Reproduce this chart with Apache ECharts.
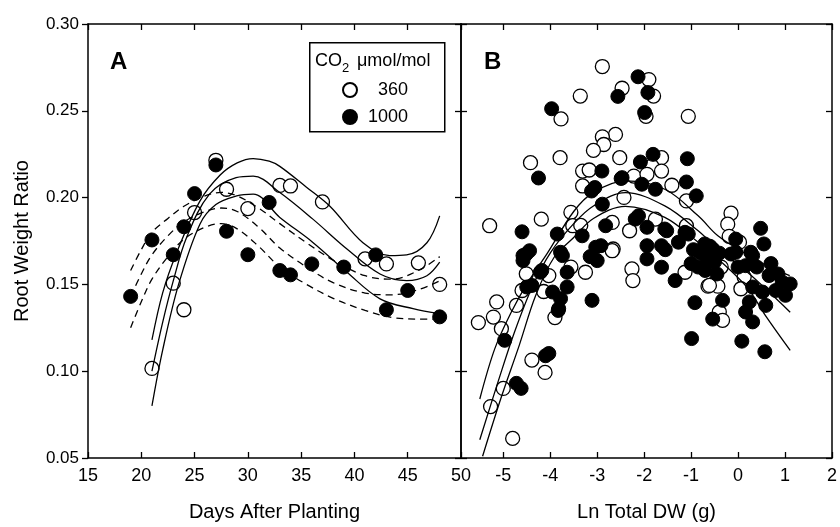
<!DOCTYPE html>
<html>
<head>
<meta charset="utf-8">
<script src="https://cdn.jsdelivr.net/npm/echarts@6/dist/echarts.min.js"></script>
<style>html,body{margin:0;padding:0;background:#fff}#c{width:840px;height:527px}</style>
</head>
<body>
<div id="c"></div>
<script>
// ---- tick labels ----
const xTicksA = [15, 20, 25, 30, 35, 40, 45, 50];
const xTicksB = [-5, -4, -3, -2, -1, 0, 1, 2];
const yTicks = [0.05, 0.10, 0.15, 0.20, 0.25, 0.30];

// ---- Panel A: Days After Planting vs Root Weight Ratio ----
const a360 = [[21,0.1016],[23,0.1507],[24,0.1354],[25,0.1914],[27,0.2215],[28,0.2048],[30,0.1937],
  [33,0.207],[34,0.2067],[37,0.1975],[41,0.1647],[43,0.1618],[46,0.1624],[48,0.150]];
const a1000 = [[19,0.1431],[21,0.1756],[23,0.1671],[24,0.1832],[25,0.2023],[27,0.2188],[28,0.1806],
  [30,0.1671],[32,0.1972],[33,0.158],[34,0.1555],[36,0.1618],[39,0.160],[42,0.167],[43,0.1354],
  [45,0.1465],[48,0.1313]];
// fitted curves (360: solid, 1000: dashed)
const a360Upper = [[21,0.118],[22,0.145],[23.3,0.168],[25.5,0.198],[27.4,0.213],[29,0.220],[30.5,0.2225],
  [32,0.221],[33,0.218],[35.5,0.206],[37.7,0.195],[40.8,0.174],[43.3,0.1666],[44.9,0.167],[46.8,0.174],[48,0.1895]];
const a360Fit = [[21,0.100],[22,0.128],[23,0.152],[24.25,0.177],[26.4,0.202],[28.9,0.2115],[30.5,0.2124],
  [33,0.2029],[36.1,0.1876],[39.3,0.1704],[42.4,0.156],[44.9,0.1522],[46.8,0.155],[48,0.1628]];
const a360Lower = [[21,0.080],[22,0.112],[23.5,0.150],[25.5,0.1847],[27,0.196],[28.95,0.201],[30.5,0.202],
  [33,0.1886],[36.1,0.1742],[39.3,0.157],[42.4,0.1417],[45.5,0.136],[48,0.1331]];
const a1000Upper = [[19,0.158],[20,0.170],[21,0.180],[22.5,0.188],[24,0.195],[26,0.201],[27.5,0.203],
  [29,0.201],[31,0.194],[33,0.185],[35.5,0.174],[38,0.164],[41,0.155],[43.5,0.153],[46,0.158],[48,0.166]];
const a1000Fit = [[19,0.143],[20,0.156],[21,0.167],[22.5,0.178],[24,0.186],[26,0.192],[27.5,0.194],
  [29,0.192],[31,0.183],[33,0.171],[35.5,0.160],[38,0.151],[41,0.145],[43.5,0.144],[46,0.147],[48,0.152]];
const a1000Lower = [[19,0.125],[20,0.140],[21,0.153],[22.5,0.166],[24,0.176],[26,0.183],[27.5,0.185],
  [29,0.182],[31,0.172],[33,0.160],[35.5,0.150],[38,0.142],[41,0.135],[43.5,0.131],[46,0.130],[48,0.130]];

// ---- Panel B: Ln Total DW (g) vs Root Weight Ratio ----
const b360 = [[-2.89,0.2755],[-1.90,0.268],[-2.47,0.263],[-1.80,0.2585],[-3.36,0.2585],[-3.77,0.2453],
  [-1.96,0.2468],[-1.06,0.2468],[-2.61,0.2364],[-2.89,0.2350],[-2.86,0.2306],[-3.08,0.2272],[-4.42,0.2201],
  [-3.79,0.2230],[-2.52,0.2230],[-1.63,0.2230],[-1.84,0.2182],[-1.63,0.2153],[-3.31,0.2153],[-3.17,0.2159],
  [-2.22,0.2124],[-1.94,0.2134],[-3.31,0.2067],[-1.41,0.2071],[-2.43,0.2001],[-1.10,0.1981],[-3.56,0.1915],
  [-4.19,0.1876],[-5.29,0.1838],[-3.52,0.1838],[-3.35,0.184],[-2.68,0.1857],[-1.76,0.1876],[-2.31,0.1809],
  [-1.10,0.1838],[-2.66,0.1704],[-0.15,0.1910],[-0.22,0.1847],[-0.19,0.1777],[0.03,0.1743],[-0.36,0.160],
  [0.13,0.1542],[-0.54,0.150],[-0.43,0.149],[-0.64,0.149],[0.06,0.1475],[-0.61,0.1494],[-0.40,0.1341],
  [-0.33,0.1293],[-2.68,0.1694],[-2.26,0.1589],[-2.24,0.1522],[-1.13,0.157],[-3.56,0.160],[-3.25,0.157],
  [-4.51,0.1561],[-4.03,0.1551],[-4.60,0.1465],[-4.14,0.1459],[-5.14,0.1399],[-4.72,0.1379],[-5.21,0.1312],
  [-3.90,0.1309],[-5.53,0.128],[-5.04,0.1245],[-4.39,0.1064],[-4.11,0.0993],[-5.00,0.0901],[-5.27,0.0796],
  [-4.80,0.0613]];
const b1000 = [[-2.13,0.2696],[-2.56,0.2583],[-1.92,0.2605],[-3.97,0.2512],[-1.99,0.2490],[-4.25,0.2113],
  [-2.90,0.2153],[-2.49,0.2110],[-3.05,0.2058],[-3.12,0.2038],[-1.81,0.2249],[-2.08,0.2205],[-1.08,0.2224],
  [-2.47,0.2115],[-2.05,0.2077],[-1.76,0.2048],[-1.10,0.2090],[-0.89,0.2010],[-2.89,0.1962],[-2.82,0.1838],
  [-2.12,0.1895],[-2.19,0.1876],[-1.94,0.1829],[-1.52,0.1809],[-1.56,0.1819],[-1.27,0.1743],[-1.06,0.1790],
  [-1.13,0.1800],[-1.63,0.1723],[-1.94,0.1723],[-3.03,0.1714],[-2.92,0.1723],[-0.71,0.1733],[-0.54,0.1704],
  [-4.60,0.1803],[-3.85,0.1790],[-3.32,0.1780],[-4.44,0.1694],[-4.58,0.1666],[-3.78,0.1685],[-4.51,0.1675],
  [-4.58,0.1637],[-3.74,0.1666],[-4.18,0.1580],[-3.64,0.1570],[-4.39,0.1494],[-3.95,0.1456],[-3.64,0.1485],
  [-3.78,0.1418],[-3.11,0.1408],[-3.83,0.1350],[-4.97,0.1178],[-4.03,0.1102],[-4.10,0.1089],[-4.72,0.0930],
  [-4.62,0.0901],[-3.00,0.1637],[-3.15,0.166],[-1.94,0.1647],[-1.63,0.1599],[-1.34,0.1522],[-1.55,0.170],
  [-0.92,0.1395],[-0.99,0.1188],[-0.54,0.1300],[-0.33,0.1408],[0.48,0.1823],[0.55,0.1733],[0.31,0.1666],
  [-0.05,0.1685],[0.16,0.1608],[0.66,0.1551],[1.11,0.1503],[0.94,0.1513],[0.80,0.1465],[1.01,0.1437],
  [0.52,0.1456],[0.31,0.1485],[0.24,0.1399],[0.59,0.1379],[0.16,0.1341],[0.31,0.1284],[0.08,0.1173],
  [0.57,0.1112],[-0.05,0.1761],[-0.15,0.1675],[0.27,0.1685],[-0.95,0.1700],[-0.80,0.1680],[-0.65,0.1650],
  [-0.50,0.1630],[-0.85,0.1600],[-0.70,0.1580],[-0.45,0.1560],[-0.60,0.1720],[-1.00,0.1620],[-0.40,0.1680],
  [0.00,0.1600],[0.40,0.1600],[0.70,0.1620],[0.85,0.1560],[-4.21,0.1570],[-4.50,0.1485],[-3.82,0.1360]];
const bUpper = [[-5.5,0.084],[-5.18,0.113],[-4.83,0.134],[-4.48,0.151],[-4.06,0.168],[-3.5,0.192],[-3.08,0.203],
  [-2.4,0.2096],[-1.56,0.2048],[-0.85,0.1895],[-0.43,0.178],[0.2,0.167],[0.6,0.161],[1.1,0.155]];
const bFit = [[-5.5,0.0605],[-5.11,0.094],[-4.76,0.1226],[-4.37,0.1494],[-3.99,0.1685],[-3.5,0.185],[-3.08,0.1952],
  [-2.4,0.2029],[-1.56,0.1952],[-0.85,0.1809],[-0.43,0.1704],[0.2,0.157],[0.66,0.1456],[1.11,0.134]];
const bLower = [[-5.44,0.051],[-5.05,0.0844],[-4.66,0.1149],[-4.31,0.1436],[-3.92,0.1655],[-3.5,0.177],[-3.08,0.188],
  [-2.4,0.195],[-1.56,0.1886],[-0.85,0.1743],[-0.43,0.1647],[0.2,0.148],[0.58,0.1322],[1.11,0.112]];

const FONT = 'Liberation Sans, Arial, sans-serif';
const chart = echarts.init(document.getElementById('c'), null, {renderer: 'canvas'});

function xAx(grid, min, max, ticks, pos, showLabel, name) {
  return {
    type: 'value', gridIndex: grid, position: pos, min: min, max: max,
    interval: (grid === 0 ? 5 : undefined),
    splitLine: {show: false},
    axisLine: {show: true, onZero: false, lineStyle: {color: '#000', width: 1.5}},
    axisTick: {show: true, inside: true, length: 6, lineStyle: {color: '#000', width: 1.3},
      customValues: (grid === 1 ? ticks : undefined)},
    axisLabel: {show: showLabel, color: '#000', fontSize: 18, fontFamily: FONT, margin: 9,
      showMinLabel: true, showMaxLabel: true, hideOverlap: false,
      customValues: (grid === 1 ? ticks : undefined)},
    name: name || '', nameLocation: 'middle', nameGap: 44,
    nameTextStyle: {color: '#000', fontSize: 20, fontFamily: FONT}
  };
}
function yAx(grid, pos, inside, showLabel, name) {
  return {
    type: 'value', gridIndex: grid, position: pos, min: 0.05, max: 0.30, interval: 0.05,
    splitLine: {show: false},
    axisLine: {show: true, onZero: false, lineStyle: {color: '#000', width: 1.5}},
    axisTick: {show: true, inside: inside, length: 6, lineStyle: {color: '#000', width: 1.3}},
    axisLabel: {show: showLabel, color: '#000', fontSize: 17, fontFamily: FONT, margin: 9,
      showMinLabel: true, showMaxLabel: true, formatter: v => v.toFixed(2)},
    name: name || '', nameLocation: 'middle', nameGap: 56,
    nameTextStyle: {color: '#000', fontSize: 20, fontFamily: FONT}
  };
}
function scat(name, xi, data, open) {
  return {
    name: name, type: 'scatter', xAxisIndex: xi, yAxisIndex: xi, data: data, symbol: 'circle', symbolSize: 14,
    itemStyle: open ? {color: '#fff', borderColor: '#000', borderWidth: 1.3, opacity: 1}
                    : {color: '#000', borderColor: '#000', borderWidth: 1, opacity: 1},
    z: 2, silent: true
  };
}
function line(name, xi, data, dashed) {
  return {
    name: name, type: 'line', xAxisIndex: xi, yAxisIndex: xi, data: data, showSymbol: false, smooth: 0.35,
    lineStyle: {color: '#000', width: 1.3, opacity: 1, type: dashed ? [7, 5] : 'solid'}, z: 3, silent: true
  };
}

chart.setOption({
  animation: false,
  backgroundColor: '#fff',
  grid: [
    {left: 88, top: 24, width: 373, height: 436},
    {left: 461, top: 24, width: 374, height: 436}
  ],
  xAxis: [
    xAx(0, 15, 50, xTicksA, 'bottom', true, 'Days After Planting'),
    xAx(0, 15, 50, xTicksA, 'top', false),
    xAx(1, -5.9, 2, xTicksB, 'bottom', true, 'Ln Total DW (g)'),
    xAx(1, -5.9, 2, xTicksB, 'top', false)
  ],
  yAxis: [
    yAx(0, 'left', false, true, 'Root Weight Ratio'),
    yAx(0, 'right', true, false),
    yAx(1, 'left', true, false),
    yAx(1, 'right', true, false)
  ],
  legend: [
    {data: ['360'], orient: 'vertical', left: 342, top: 81, padding: 0, itemWidth: 14, itemHeight: 14, selectedMode: false,
      textStyle: {color: '#000', fontSize: 18, fontFamily: FONT, padding: [0, 0, 0, 16]}},
    {data: ['1000'], orient: 'vertical', left: 342, top: 108, padding: 0, itemWidth: 14, itemHeight: 14, selectedMode: false,
      textStyle: {color: '#000', fontSize: 18, fontFamily: FONT, padding: [0, 0, 0, 6]}}
  ],
  graphic: [
    {type: 'rect', left: 309, top: 42, z: 1, shape: {width: 135, height: 89},
      style: {fill: '#fff', stroke: '#000', lineWidth: 1.5}},
    {type: 'text', left: 315, top: 52, z: 5, style: {text: 'CO', fill: '#000', font: '18px ' + FONT}},
    {type: 'text', left: 342, top: 62, z: 5, style: {text: '2', fill: '#000', font: '13px ' + FONT}},
    {type: 'text', left: 357, top: 52, z: 5, style: {text: 'μmol/mol', fill: '#000', font: '18px ' + FONT}},
    {type: 'text', left: 110, top: 50, z: 5, style: {text: 'A', fill: '#000', font: 'bold 24px ' + FONT}},
    {type: 'text', left: 484, top: 50, z: 5, style: {text: 'B', fill: '#000', font: 'bold 24px ' + FONT}}
  ],
  series: [
    scat('360', 0, a360, true),
    scat('1000', 0, a1000, false),
    line('a360Upper', 0, a360Upper, false),
    line('a360Fit', 0, a360Fit, false),
    line('a360Lower', 0, a360Lower, false),
    line('a1000Upper', 0, a1000Upper, true),
    line('a1000Fit', 0, a1000Fit, true),
    line('a1000Lower', 0, a1000Lower, true),
    scat('360', 2, b360, true),
    scat('1000', 2, b1000, false),
    line('bUpper', 2, bUpper, false),
    line('bFit', 2, bFit, false),
    line('bLower', 2, bLower, false)
  ]
});
</script>
</body>
</html>
